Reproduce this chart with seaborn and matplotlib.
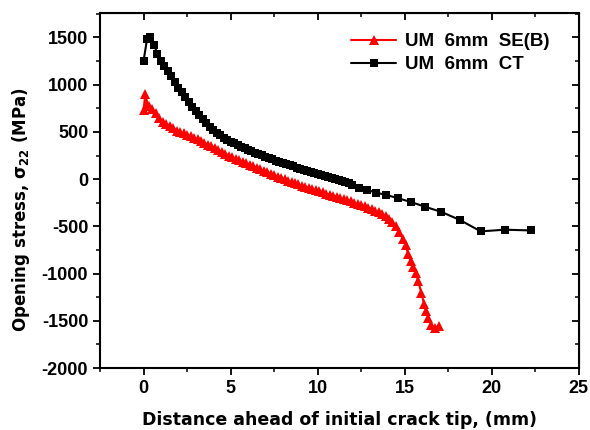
import numpy as np
import pandas as pd
import matplotlib
matplotlib.use("Agg")
import matplotlib.pyplot as plt
import seaborn as sns
from matplotlib.ticker import MultipleLocator

# UM 6mm SE(B) - opening stress ahead of crack tip
seb_x = [0.0, 0.1, 0.2, 0.3, 0.5, 0.7, 0.9, 1.1, 1.3, 1.5, 1.7, 1.9, 2.1, 2.3, 2.5,
         2.7, 2.9, 3.1, 3.3, 3.5, 3.7, 3.9, 4.1, 4.3, 4.5, 4.7, 4.9, 5.1, 5.3, 5.5,
         5.7, 5.9, 6.1, 6.3, 6.5, 6.7, 6.9, 7.1, 7.3, 7.5, 7.7, 7.9, 8.1, 8.3, 8.5,
         8.7, 8.9, 9.1, 9.3, 9.5, 9.7, 9.9, 10.1, 10.3, 10.5, 10.7, 10.9, 11.1, 11.3,
         11.5, 11.7, 11.9, 12.1, 12.3, 12.5, 12.7, 12.9, 13.1, 13.3, 13.5, 13.7, 13.9,
         14.1, 14.3, 14.5, 14.7, 14.9, 15.05, 15.2, 15.34, 15.5, 15.63, 15.77, 15.96,
         16.11, 16.23, 16.36, 16.53, 16.72, 16.97]
seb_y = [730, 900, 800, 770, 745, 700, 650, 610, 585, 560, 540, 515, 500, 485, 470,
         455, 440, 420, 402, 385, 365, 348, 330, 310, 290, 270, 250, 232, 216, 200,
         184, 168, 152, 136, 120, 104, 88, 72, 57, 42, 27, 12, -2, -16, -30,
         -43, -56, -69, -81, -93, -105, -117, -129, -141, -153, -165, -177, -189, -200,
         -212, -224, -236, -248, -261, -274, -288, -302, -317, -333, -350, -370, -392,
         -420, -455, -500, -560, -630, -700, -790, -869, -930, -990, -1074, -1206,
         -1319, -1394, -1465, -1543, -1578, -1550]

# UM 6mm CT
ct_x = [0.0, 0.2, 0.4, 0.6, 0.8, 1.0, 1.2, 1.4, 1.6, 1.8, 2.0, 2.2, 2.4, 2.6, 2.8,
        3.0, 3.2, 3.4, 3.6, 3.8, 4.0, 4.2, 4.4, 4.6, 4.8, 5.0, 5.2, 5.4, 5.6, 5.8,
        6.0, 6.2, 6.4, 6.6, 6.8, 7.0, 7.2, 7.4, 7.6, 7.8, 8.0, 8.2, 8.4, 8.6, 8.8,
        9.0, 9.2, 9.4, 9.6, 9.8, 10.0, 10.2, 10.4, 10.6, 10.8, 11.0, 11.2, 11.4, 11.6,
        11.8, 12.0, 12.37, 12.86, 13.33, 13.95, 14.62, 15.34, 16.15, 17.11, 18.18,
        19.37, 20.75, 22.24]
ct_y = [1250, 1480, 1500, 1420, 1330, 1250, 1200, 1140, 1090, 1030, 970, 920, 865, 815, 765,
        720, 675, 632, 592, 555, 520, 490, 463, 438, 415, 395, 378, 360, 343, 326,
        310, 295, 280, 266, 252, 238, 224, 210, 197, 184, 171, 158, 146, 134, 122,
        110, 99, 88, 77, 66, 55, 45, 35, 24, 13, 2, -8, -19, -30,
        -45, -60, -89, -113, -142, -167, -202, -241, -291, -347, -433,
        -553, -535, -543]

seb = pd.DataFrame({"x": seb_x, "y": seb_y})
ct = pd.DataFrame({"x": ct_x, "y": ct_y})

sns.set_style("ticks")
plt.rcParams["font.family"] = ["Liberation Sans", "DejaVu Sans"]
plt.rcParams["axes.unicode_minus"] = False
plt.rcParams["text.color"] = "black"
plt.rcParams["axes.labelcolor"] = "black"
plt.rcParams["xtick.color"] = "black"
plt.rcParams["ytick.color"] = "black"

fig = plt.figure(figsize=(5.9, 4.3), dpi=100)
ax = fig.add_axes([0.1695, 0.144, 0.8115, 0.826])

sns.lineplot(data=seb, x="x", y="y", ax=ax, sort=False, color="#ff0000",
             marker="^", markersize=6.8, markeredgewidth=0, linewidth=1.5,
             label="UM  6mm  SE(B)")
sns.lineplot(data=ct, x="x", y="y", ax=ax, sort=False, color="black",
             marker="s", markersize=5.4, markeredgewidth=0, linewidth=1.5,
             label="UM  6mm  CT")

ax.set_xlim(-2.5, 25)
ax.set_ylim(-2000, 1760)
ax.xaxis.set_major_locator(MultipleLocator(5))
ax.xaxis.set_minor_locator(MultipleLocator(2.5))
ax.yaxis.set_major_locator(MultipleLocator(500))
ax.yaxis.set_minor_locator(MultipleLocator(250))

for s in ax.spines.values():
    s.set_visible(True)
    s.set_linewidth(1.5)
    s.set_color("black")

ax.tick_params(which="major", direction="out", length=5, width=1.3,
               labelsize=13, colors="black")
ax.tick_params(which="minor", direction="out", length=3, width=1.1)
for lab in ax.get_xticklabels() + ax.get_yticklabels():
    lab.set_fontweight("bold")

# mirrored inward ticks on top and right
secx = ax.secondary_xaxis("top")
secx.xaxis.set_major_locator(MultipleLocator(5))
secx.xaxis.set_minor_locator(MultipleLocator(2.5))
secx.tick_params(which="major", direction="in", length=5, width=1.3, labeltop=False)
secx.tick_params(which="minor", direction="in", length=3, width=1.1)
secy = ax.secondary_yaxis("right")
secy.yaxis.set_major_locator(MultipleLocator(500))
secy.yaxis.set_minor_locator(MultipleLocator(250))
secy.tick_params(which="major", direction="in", length=5, width=1.3, labelright=False)
secy.tick_params(which="minor", direction="in", length=3, width=1.1)

ax.set_xlabel("Distance ahead of initial crack tip, (mm)", fontsize=12.5,
              fontweight="bold", family="DejaVu Sans", labelpad=10, color="black")
ax.set_ylabel(r"Opening stress, $\mathbf{\sigma_{22}}$ (MPa)", fontsize=12,
              fontweight="bold", family="DejaVu Sans", color="black")
ax.yaxis.set_label_coords(-0.142, 0.445)

leg = ax.legend(loc="upper right", bbox_to_anchor=(0.975, 0.99), frameon=False,
                prop={"weight": "bold", "size": 13.5}, handlelength=2.4,
                handletextpad=0.5, labelspacing=0.3)
for t in leg.get_texts():
    t.set_color("black")

fig.savefig("out.png", dpi=100)
